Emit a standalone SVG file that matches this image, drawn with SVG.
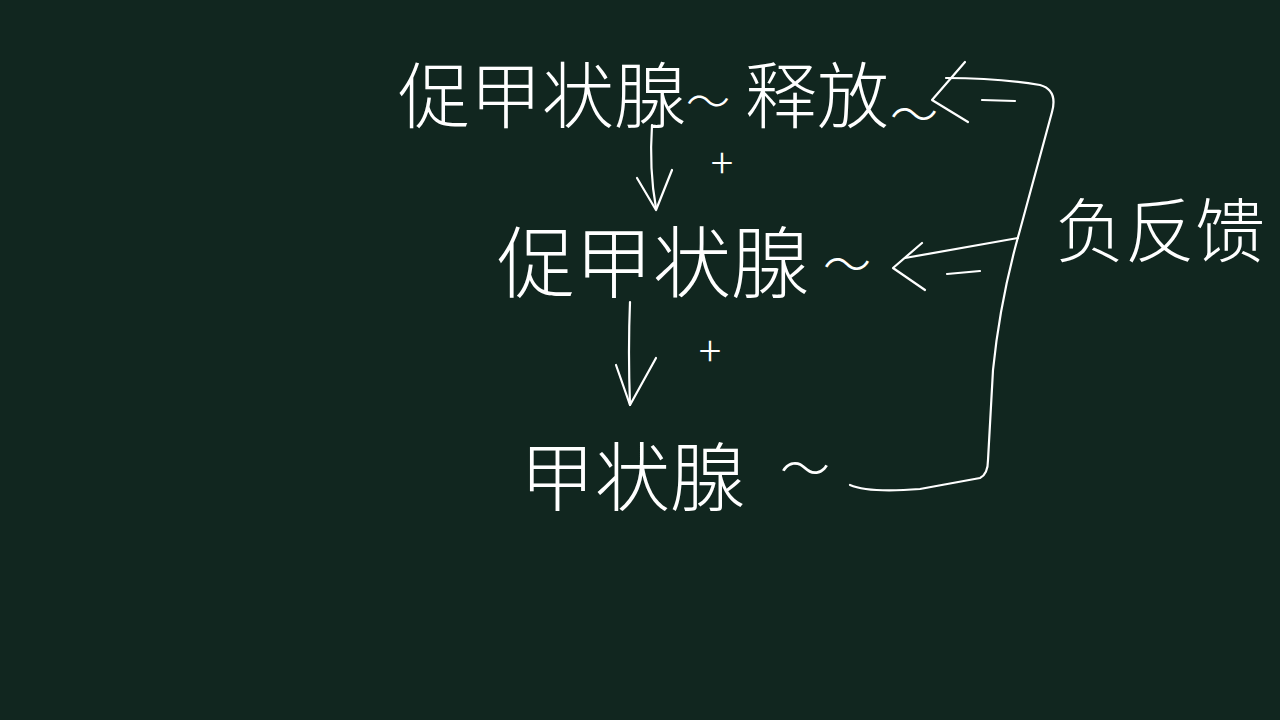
<svg xmlns="http://www.w3.org/2000/svg" width="1280" height="720" viewBox="0 0 1280 720">
<style>
.t{font-family:"Noto Sans CJK SC","Noto Sans",sans-serif;font-weight:300;fill:#ffffff}
.s{fill:none;stroke:#ffffff;stroke-width:2.2;stroke-linecap:round;stroke-linejoin:round}
</style>
<rect width="1280" height="720" fill="#11261f"/>
<g id="trh">
<text class="t" x="398" y="122" font-size="72">促甲状腺<tspan font-size="44" dy="-4">〜</tspan><tspan x="745" dy="4">释放</tspan><tspan x="890" font-size="48" dy="10">〜</tspan></text>
</g>
<g id="tsh">
<text class="t" x="497" y="292" font-size="78">促甲状腺<tspan font-size="48" dx="14" dy="-10">〜</tspan></text>
</g>
<g id="th">
<text class="t" x="520" y="505" font-size="75">甲状腺<tspan x="780" font-size="50" dy="-18">〜</tspan></text>
</g>
<g id="feedback">
<text class="t" x="1055" y="257" font-size="70">负反馈</text>
</g>
<g id="signs">
<text class="t" x="722" y="178" font-size="42" text-anchor="middle">+</text>
<text class="t" x="710" y="366" font-size="42" text-anchor="middle">+</text>
</g>
<g id="connectors">
<path class="s" d="M652 125 Q649 170 656 208"/>
<polyline class="s" points="637,178 656,210 672,170"/>
<path class="s" d="M630 302 Q628 350 630 405"/>
<polyline class="s" points="616,365 630,405 656,358"/>
<path class="s" d="M850 485 Q868 493 920 489 L980 478 Q988 474 988 460 L993 370 Q1000 300 1020 230 L1052 112 Q1058 90 1040 85 Q1000 78 946 78"/>
<polyline class="s" points="965,62 932,100 968,122"/>
<line class="s" x1="982" y1="100" x2="1015" y2="101"/>
<path class="s" d="M1018 238 L905 258"/>
<polyline class="s" points="922,243 893,268 925,290"/>
<line class="s" x1="947" y1="274" x2="980" y2="271"/>
</g>
</svg>
